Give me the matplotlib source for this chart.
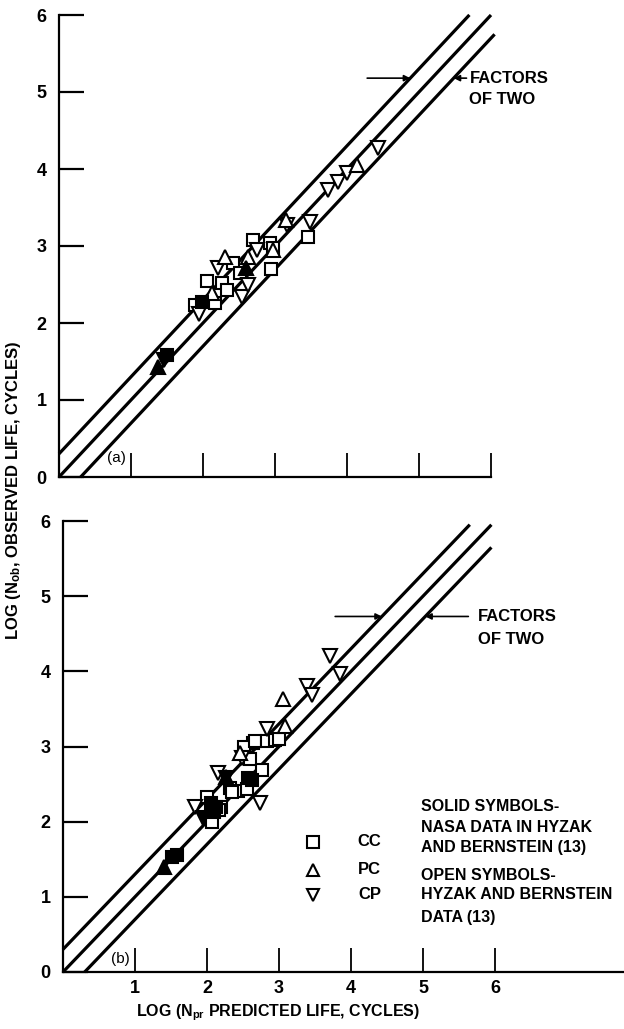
import numpy as np
import matplotlib.pyplot as plt

plt.rcParams['font.family'] = ['Liberation Sans Narrow', 'Liberation Sans', 'DejaVu Sans']
plt.rcParams['font.weight'] = 'bold'
plt.rcParams['mathtext.fontset'] = 'custom'
plt.rcParams['mathtext.rm'] = 'Liberation Sans:bold'
plt.rcParams['mathtext.default'] = 'rm'

# ---- panel (a) ----
a_cc_open_x = [1.89, 2.05, 2.17, 2.26, 2.33, 2.42, 2.51, 2.69, 2.93, 2.97, 2.94, 3.46]
a_cc_open_y = [2.23, 2.54, 2.26, 2.52, 2.43, 2.78, 2.65, 3.08, 3.04, 2.98, 2.70, 3.12]
a_pc_open_x = [2.12, 2.31, 2.63, 3.15, 4.14, 2.97]
a_pc_open_y = [2.39, 2.86, 2.86, 3.34, 4.05, 2.95]
a_cp_open_x = [1.95, 2.21, 2.75, 2.54, 3.17, 3.49, 3.74, 3.88, 4.00, 4.43, 2.62]
a_cp_open_y = [2.12, 2.71, 2.95, 2.34, 3.27, 3.31, 3.73, 3.83, 3.95, 4.27, 2.50]
a_cc_solid_x = [1.50, 1.98]
a_cc_solid_y = [1.58, 2.27]
a_pc_solid_x = [1.38, 2.60]
a_pc_solid_y = [1.43, 2.72]
a_cp_solid_x = [1.46]
a_cp_solid_y = [1.52]

# ---- panel (b) ----
b_cc_open_x = [2.00, 2.07, 2.20, 2.17, 2.32, 2.43, 2.55, 2.35, 2.60, 2.76, 2.64, 2.52,
               2.67, 2.83, 2.94, 3.00]
b_cc_open_y = [2.33, 2.00, 2.20, 2.15, 2.45, 2.41, 2.43, 2.39, 2.83, 2.69, 3.05, 2.99,
               3.07, 3.07, 3.09, 3.10]
b_pc_open_x = [3.08, 3.06, 2.46]
b_pc_open_y = [3.27, 3.63, 2.92]
b_cp_open_x = [1.84, 2.15, 2.49, 2.74, 2.83, 3.39, 3.46, 3.71, 3.85]
b_cp_open_y = [2.19, 2.65, 2.85, 2.25, 3.23, 3.80, 3.69, 4.20, 3.96]
b_cc_solid_x = [1.52, 1.58, 2.05, 2.10, 2.12, 2.57, 2.62]
b_cc_solid_y = [1.53, 1.56, 2.25, 2.13, 2.20, 2.58, 2.55]
b_pc_solid_x = [1.40, 2.27]
b_pc_solid_y = [1.40, 2.60]
b_cp_solid_x = [1.95, 2.27]
b_cp_solid_y = [2.05, 2.58]

# factor-of-two band: offsets and x range of each line
band_offset = [np.log10(2), 0.0, -np.log10(2)]
a_band_x0 = [0.0, 0.0, 0.30]
a_band_x1 = [5.70, 6.00, 6.05]
b_band_x0 = [0.0, 0.0, 0.30]
b_band_x1 = [5.65, 5.95, 5.95]

ticks = [1, 2, 3, 4, 5, 6]
yticks = [0, 1, 2, 3, 4, 5, 6]
codes = ['CC', 'PC', 'CP']
legend_text_solid = ['SOLID SYMBOLS-', 'NASA DATA IN HYZAK', 'AND BERNSTEIN (13)']
legend_text_open = ['OPEN SYMBOLS-', 'HYZAK AND BERNSTEIN', 'DATA (13)']

fig = plt.figure(figsize=(6.24, 10.29), dpi=100)
ax_a = fig.add_axes([59 / 624, 1 - 477 / 1029, 432 / 624, 462 / 1029])
ax_b = fig.add_axes([63 / 624, 1 - 972 / 1029, 561 / 624, 451 / 1029])

mk = dict(ls='none', mew=1.5, mec='black', clip_on=False)


def draw_panel(ax, sets, x0s, x1s):
    for off, xs, xe in zip(band_offset, x0s, x1s):
        ax.plot([xs, xe], [xs + off, xe + off], color='black', lw=2.3,
                solid_capstyle='butt', clip_on=False)
    for (x, y, m, fill) in sets:
        ms = 9 if m == 's' else 10
        ax.plot(x, y, marker=m, ms=ms, mfc='black' if fill else 'white', **mk)
    ax.set_ylim(0, 6)
    ax.set_yticks(yticks)
    ax.set_xticks(ticks)
    for s in ['top', 'right']:
        ax.spines[s].set_visible(False)
    for s in ['left', 'bottom']:
        ax.spines[s].set_linewidth(1.6)
    ax.tick_params(axis='y', direction='in', length=18, width=1.6, pad=9,
                   labelsize=13)
    ax.tick_params(axis='x', direction='in', length=17, width=1.3, pad=6,
                   labelsize=13)


draw_panel(ax_a, [(a_cc_open_x, a_cc_open_y, 's', False),
                  (a_cp_open_x, a_cp_open_y, 'v', False),
                  (a_pc_open_x, a_pc_open_y, '^', False),
                  (a_cc_solid_x, a_cc_solid_y, 's', True),
                  (a_pc_solid_x, a_pc_solid_y, '^', True),
                  (a_cp_solid_x, a_cp_solid_y, 'v', True)],
           a_band_x0, a_band_x1)
ax_a.set_xlim(0, 6)
ax_a.set_xticklabels([])
ax_a.text(0.80, 0.25, '(a)', fontsize=11, ha='center', va='center',
          fontweight='normal')

draw_panel(ax_b, [(b_cc_open_x, b_cc_open_y, 's', False),
                  (b_cp_open_x, b_cp_open_y, 'v', False),
                  (b_pc_open_x, b_pc_open_y, '^', False),
                  (b_cc_solid_x, b_cc_solid_y, 's', True),
                  (b_pc_solid_x, b_pc_solid_y, '^', True),
                  (b_cp_solid_x, b_cp_solid_y, 'v', True)],
           b_band_x0, b_band_x1)
ax_b.set_xlim(0, 561 / 72)
ax_b.text(0.80, 0.17, '(b)', fontsize=11, ha='center', va='center',
          fontweight='normal')

# "factors of two" callouts
arr = dict(arrowstyle='-|>', color='black', lw=1.2, mutation_scale=9,
           shrinkA=0, shrinkB=0)
ax_a.annotate('', xy=(5.18 - band_offset[0], 5.18), xytext=(4.28, 5.18),
              arrowprops=arr)
ax_a.annotate('', xy=(5.18 - band_offset[2], 5.18), xytext=(5.66, 5.18),
              arrowprops=arr)
ax_a.text(5.70, 5.18, 'FACTORS', fontsize=12, ha='left', va='center')
ax_a.text(5.70, 4.90, 'OF TWO', fontsize=12, ha='left', va='center')

ax_b.annotate('', xy=(4.73 - band_offset[0], 4.73), xytext=(3.78, 4.73),
              arrowprops=arr)
ax_b.annotate('', xy=(4.73 - band_offset[2], 4.73), xytext=(5.63, 4.73),
              arrowprops=arr)
ax_b.text(5.76, 4.73, 'FACTORS', fontsize=12, ha='left', va='center')
ax_b.text(5.76, 4.43, 'OF TWO', fontsize=12, ha='left', va='center')

# key
for code, m, yy in zip(codes, ['s', '^', 'v'], [1.73, 1.36, 1.03]):
    ax_b.plot(3.47, yy, marker=m, ms=9, mfc='white', mec='black', mew=1.5,
              ls='none')
    ax_b.text(4.26, yy, code, fontsize=12, ha='center', va='center')
for line, yy in zip(legend_text_solid, [2.20, 1.92, 1.65]):
    ax_b.text(4.97, yy, line, fontsize=11.5, ha='left', va='center')
for line, yy in zip(legend_text_open, [1.29, 1.03, 0.73]):
    ax_b.text(4.97, yy, line, fontsize=11.5, ha='left', va='center')

fig.text(278 / 624, 1 - 1013 / 1029, 'LOG (N$_{pr}$ PREDICTED LIFE, CYCLES)',
         fontsize=11.5, ha='center', va='center')
fig.text(14 / 624, 1 - 490 / 1029, 'LOG (N$_{ob}$, OBSERVED LIFE, CYCLES)',
         fontsize=12, ha='center', va='center', rotation=90)

fig.savefig('out.png', dpi=100)
